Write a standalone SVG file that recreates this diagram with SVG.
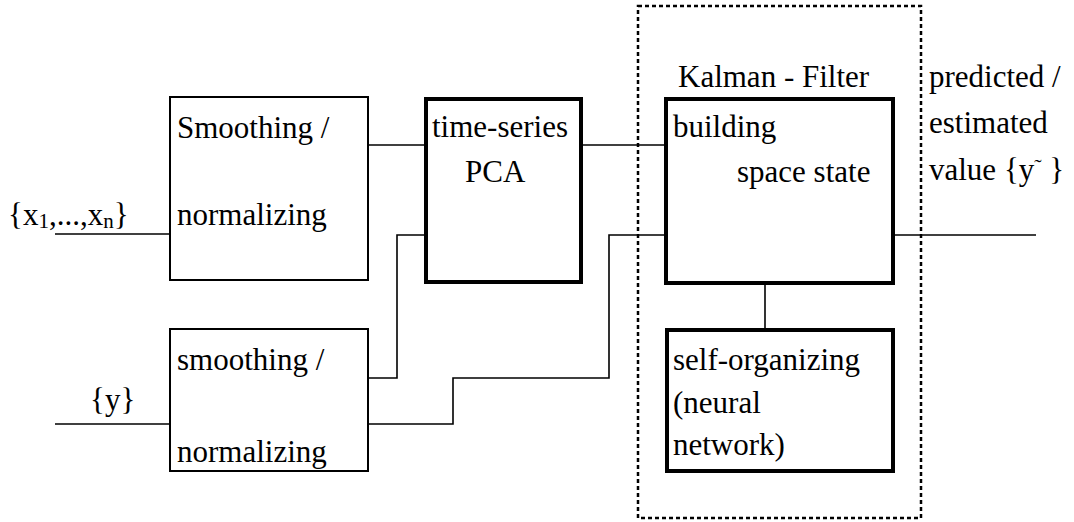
<svg xmlns="http://www.w3.org/2000/svg" width="1074" height="522" viewBox="0 0 1074 522">
<style>
.thin{fill:#fff;stroke:#000;stroke-width:2}
.thick{fill:#fff;stroke:#000;stroke-width:4}
.wire{fill:none;stroke:#000;stroke-width:1.6}
</style>
<rect width="1074" height="522" fill="#fff"/>
<g id="kalman-group">
<rect x="638" y="6" width="283" height="512" fill="none" stroke="#000" stroke-width="2.5" stroke-dasharray="4 3"/>
<text font-family="Liberation Serif" font-size="31" x="678" y="87">Kalman - Filter</text>
</g>
<g id="connectors">
<path class="wire" d="M55 234H170"/>
<path class="wire" d="M55 424H170"/>
<path class="wire" d="M368 145H424"/>
<path class="wire" d="M583 145H665"/>
<path class="wire" d="M368 378H397V235H424"/>
<path class="wire" d="M368 424H453V378H609V235H665"/>
<path class="wire" d="M895 235H1036"/>
<path class="wire" d="M765 285V328"/>
</g>
<g id="input-x">
<text font-family="Liberation Serif" font-size="31" x="8" y="225">{x<tspan font-size="21" dy="3">1</tspan><tspan dy="-3">,...,x</tspan><tspan font-size="21" dy="3">n</tspan><tspan dy="-3">}</tspan></text>
</g>
<g id="input-y">
<text font-family="Liberation Serif" font-size="31" x="90" y="410">{y}</text>
</g>
<g id="smooth1">
<rect class="thin" x="170" y="97" width="198" height="183"/>
<text font-family="Liberation Serif" font-size="31" x="177" y="138">Smoothing /</text>
<text font-family="Liberation Serif" font-size="31" x="177" y="225">normalizing</text>
</g>
<g id="smooth2">
<rect class="thin" x="170" y="329" width="198" height="142"/>
<text font-family="Liberation Serif" font-size="31" x="177" y="370">smoothing /</text>
<text font-family="Liberation Serif" font-size="31" x="177" y="462">normalizing</text>
</g>
<g id="pca">
<rect class="thick" x="426" y="99" width="155" height="183"/>
<text font-family="Liberation Serif" font-size="31" x="432" y="137">time-series</text>
<text font-family="Liberation Serif" font-size="31" x="465" y="182">PCA</text>
</g>
<g id="statespace">
<rect class="thick" x="666" y="99" width="227" height="184"/>
<text font-family="Liberation Serif" font-size="31" x="673" y="137">building</text>
<text font-family="Liberation Serif" font-size="31" x="737" y="182">space state</text>
</g>
<g id="som">
<rect class="thick" x="667" y="330" width="226" height="141"/>
<text font-family="Liberation Serif" font-size="31" x="673" y="370">self-organizing</text>
<text font-family="Liberation Serif" font-size="31" x="673" y="413">(neural</text>
<text font-family="Liberation Serif" font-size="31" x="673" y="455">network)</text>
</g>
<g id="output">
<text font-family="Liberation Serif" font-size="31" x="929" y="87">predicted /</text>
<text font-family="Liberation Serif" font-size="31" x="929" y="133">estimated</text>
<text font-family="Liberation Serif" font-size="31" x="929" y="180">value {y<tspan dy="-6" font-size="22">˜</tspan><tspan dy="6"> }</tspan></text>
</g>
</svg>
